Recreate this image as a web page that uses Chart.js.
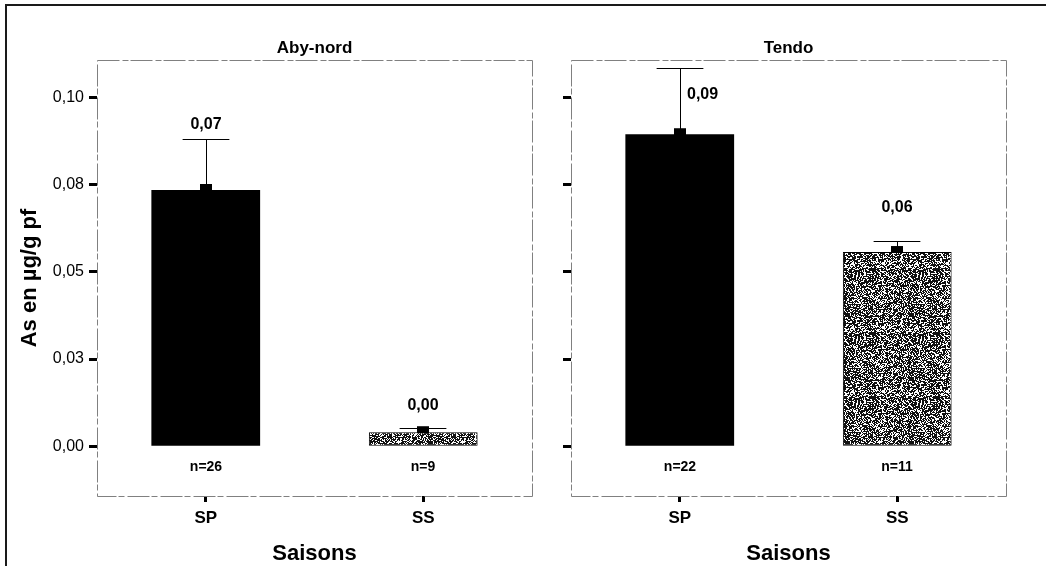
<!DOCTYPE html>
<html>
<head>
<meta charset="utf-8">
<script src="https://cdn.jsdelivr.net/npm/chart.js@4.4.1/dist/chart.umd.min.js"></script>
<style>
  html, body { margin: 0; padding: 0; background: #fff; }
  #wrap { position: relative; width: 1046px; height: 566px; overflow: hidden; }
  #frame { position: absolute; left: 5px; top: 4px; width: 1100px; height: 600px;
           border-top: 2px solid #1a1a1a; border-left: 2px solid #1a1a1a; }
  canvas { position: absolute; top: 0; }
</style>
</head>
<body>
<div id="wrap">
  <div id="frame"></div>
  <canvas id="aby" width="545" height="566" style="left:0"></canvas>
  <canvas id="tendo" width="501" height="566" style="left:545px"></canvas>
</div>
<script>
// catégories et valeurs
const categories = ['SP', 'SS'];
const abyMeans = [0.0735, 0.0040];
const abyErrTop = [0.0881, 0.0052];
const abyLabels = ['0,07', '0,00'];
const abyCounts = ['n=26', 'n=9'];
const tendoMeans = [0.0895, 0.0557];
const tendoErrTop = [0.1085, 0.0588];
const tendoLabels = ['0,09', '0,06'];
const tendoCounts = ['n=22', 'n=11'];
const yTickValues = [0, 0.025, 0.05, 0.075, 0.1];
const yTickLabels = ['0,00', '0,03', '0,05', '0,08', '0,10'];
const yMin = -0.0143;
const yMax = 0.1108;

const FONT = '"Liberation Sans", Arial, sans-serif';
Chart.defaults.color = '#000';
Chart.defaults.font.family = FONT;

// texture pointillée des barres SS
function speckle() {
    const c = document.createElement('canvas');
    c.width = c.height = 64;
    const g = c.getContext('2d');
    g.fillStyle = '#fff';
    g.fillRect(0, 0, 64, 64);
    g.fillStyle = '#111';
    for (let y = 0; y < 64; y++) {
        for (let x = 0; x < 64; x++) {
            const h = Math.sin(x * 12.9898 + y * 78.233) * 43758.5453;
            if (h - Math.floor(h) < 0.62) g.fillRect(x, y, 1, 1);
        }
    }
    return g.createPattern(c, 'repeat');
}

// cadre gris autour de la zone de tracé
const framePlugin = {
    id: 'frame',
    beforeDatasetsDraw(chart) {
        const a = chart.chartArea, ctx = chart.ctx;
        ctx.save();
        ctx.strokeStyle = '#808080';
        ctx.lineWidth = 1;
        ctx.setLineDash([22, 3, 6, 2]);
        ctx.strokeRect(a.left + 0.5, a.top + 0.5, a.width, a.height);
        ctx.restore();
    }
};

// barres d'erreur, marqueur de moyenne, étiquettes
const errPlugin = {
    id: 'errbars',
    afterDatasetsDraw(chart, args, o) {
        const ctx = chart.ctx, y = chart.scales.y;
        const meta = chart.getDatasetMeta(0);
        const y0 = y.getPixelForValue(0);
        ctx.save();
        meta.data.forEach((bar, i) => {
            const cx = Math.round(bar.x), top = bar.y;
            const hi = Math.round(y.getPixelForValue(o.errTop[i]));
            const half = bar.width * 0.215;
            ctx.strokeStyle = '#000';
            ctx.lineWidth = 1;
            ctx.beginPath();
            ctx.moveTo(cx + 0.5, top);
            ctx.lineTo(cx + 0.5, hi);
            ctx.moveTo(cx - half, hi + 0.5);
            ctx.lineTo(cx + half, hi + 0.5);
            ctx.stroke();
            ctx.fillStyle = '#000';
            ctx.fillRect(cx - 6, top - 6, 12, 7);

            ctx.font = 'bold 16px ' + FONT;
            ctx.textBaseline = 'middle';
            if (o.side[i]) {
                ctx.textAlign = 'left';
                ctx.fillText(o.labels[i], cx + 7, hi + o.lift[i]);
            } else {
                ctx.textAlign = 'center';
                ctx.fillText(o.labels[i], cx, hi - o.lift[i]);
            }
            ctx.font = 'bold 14px ' + FONT;
            ctx.textAlign = 'center';
            ctx.fillText(o.counts[i], cx, y0 + 21);
        });
        ctx.restore();
    }
};

function makePanel(id, site, means, errTop, labels, counts, opts) {
    return new Chart(document.getElementById(id), {
        type: 'bar',
        data: {
            labels: categories,
            datasets: [{
                data: means,
                backgroundColor: ['#000', speckle()],
                borderColor: '#000',
                borderWidth: [0, 1],
                borderSkipped: false,
                barPercentage: 0.5,
                categoryPercentage: 1
            }]
        },
        plugins: [framePlugin, errPlugin],
        options: {
            responsive: false,
            animation: false,
            layout: { padding: { left: 0, right: opts.padRight, top: 0, bottom: 0 } },
            plugins: {
                legend: { display: false },
                tooltip: { enabled: false },
                title: {
                    display: true, text: site, fullSize: false, color: '#000',
                    font: { size: 17, weight: 'bold', lineHeight: 1 },
                    padding: { top: 40, bottom: 3 }
                },
                errbars: { errTop: errTop, labels: labels, counts: counts, lift: opts.lift, side: opts.side }
            },
            scales: {
                x: {
                    grid: { drawOnChartArea: false, offset: false, tickLength: 6, tickWidth: 3, tickColor: '#000' },
                    border: { display: false },
                    ticks: { color: '#000', font: { size: 17, weight: 'bold' }, padding: 6 },
                    title: {
                        display: true, text: 'Saisons', color: '#000',
                        font: { size: 22, weight: 'bold', lineHeight: 1 },
                        padding: { top: 0, bottom: 1 }
                    },
                    afterFit: s => { s.height = 70; }
                },
                y: {
                    min: yMin, max: yMax,
                    grid: { drawOnChartArea: false, tickLength: 8, tickWidth: 3, tickColor: '#000' },
                    border: { display: false },
                    afterBuildTicks: s => { s.ticks = yTickValues.map(v => ({ value: v })); },
                    ticks: {
                        callback: (v, i) => opts.tickText ? yTickLabels[i] : '',
                        padding: 5, color: '#000', font: { size: 16 }
                    },
                    title: {
                        display: opts.tickText, text: 'As en µg/g pf', color: '#000',
                        font: { size: 22, weight: 'bold', lineHeight: 1 },
                        padding: { top: 19, bottom: 0 }
                    },
                    afterFit: s => { s.width = opts.axisWidth; }
                }
            }
        }
    });
}

makePanel('aby', 'Aby-nord', abyMeans, abyErrTop, abyLabels, abyCounts,
    { padRight: 13, axisWidth: 97, tickText: true, lift: [14, 22], side: [false, false] });
makePanel('tendo', 'Tendo', tendoMeans, tendoErrTop, tendoLabels, tendoCounts,
    { padRight: 40, axisWidth: 26, tickText: false, lift: [27, 33], side: [true, false] });
</script>
</body>
</html>
